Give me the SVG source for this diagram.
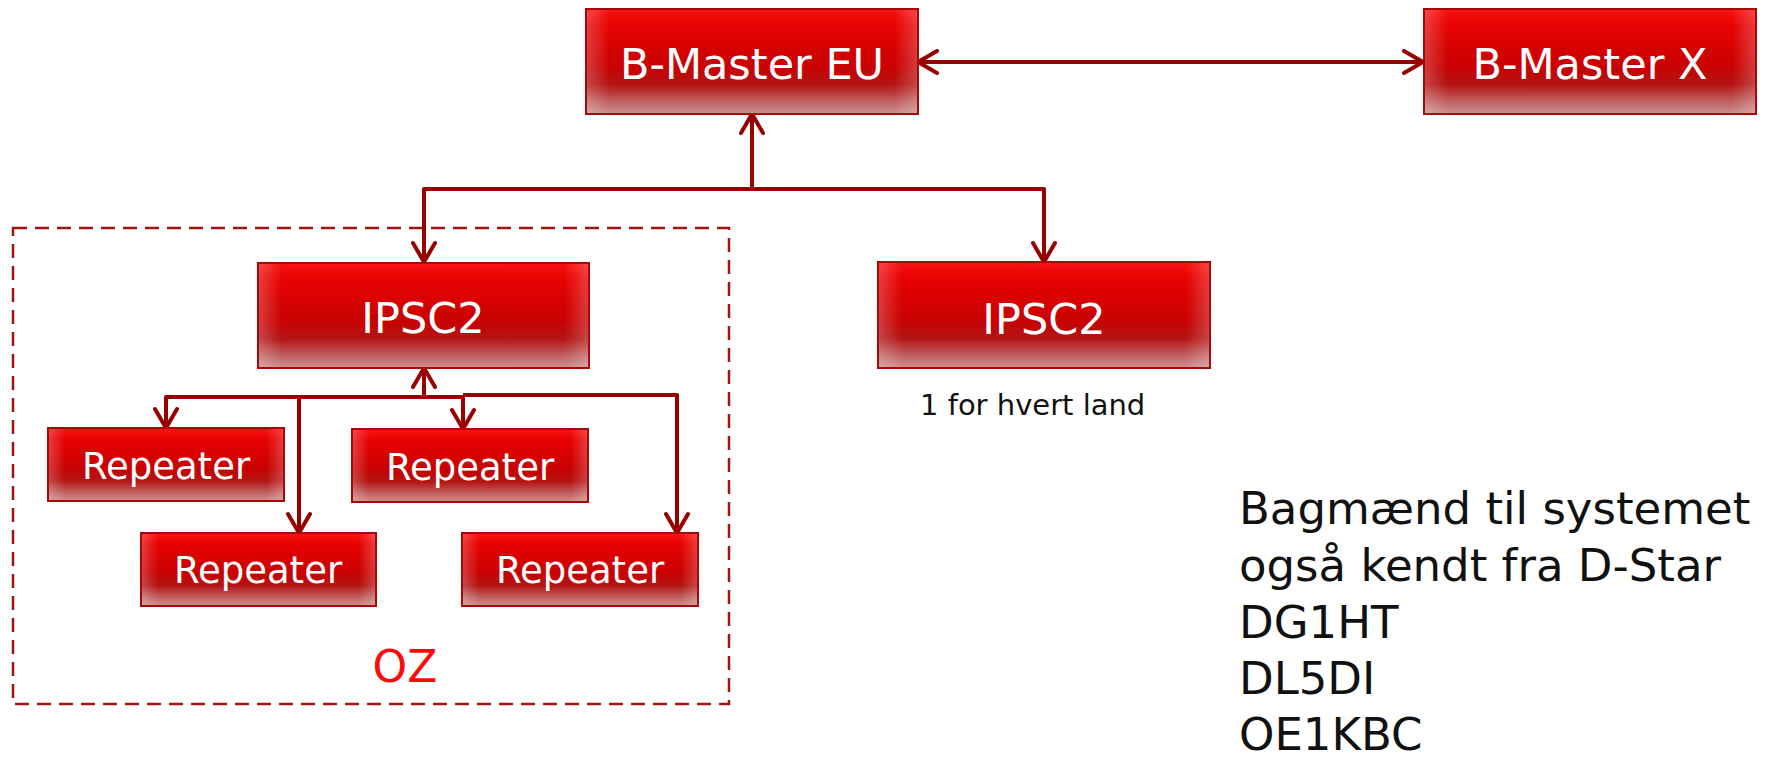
<svg xmlns="http://www.w3.org/2000/svg" width="1768" height="762" viewBox="0 0 1768 762">
  <style>
    .box { fill: url(#gV); stroke: #a80808; stroke-width: 2; }
    .glow { fill: url(#gH); stroke: none; }
    .lbl { font-family: "DejaVu Sans", "Liberation Sans", sans-serif; fill: #ffffff; text-anchor: middle; }
    .big { font-size: 43px; }
    .rep { font-size: 37px; }
    .conn { fill: none; stroke: #990000; stroke-width: 4; stroke-linejoin: round; }
    .note { font-family: "DejaVu Sans", "Liberation Sans", sans-serif; fill: #111111; }
    .group { fill: none; stroke: #a01414; stroke-width: 2.5; stroke-dasharray: 14 8; }
  </style>
  <defs>
    <linearGradient id="gV" x1="0" y1="0" x2="0" y2="1">
      <stop offset="0" stop-color="#f81414"/>
      <stop offset="0.15" stop-color="#e80202"/>
      <stop offset="0.55" stop-color="#c80202"/>
      <stop offset="0.72" stop-color="#b41414"/>
      <stop offset="0.88" stop-color="#c06060"/>
      <stop offset="1" stop-color="#cc9090"/>
    </linearGradient>
    <linearGradient id="gH" x1="0" y1="0" x2="1" y2="0">
      <stop offset="0" stop-color="#ffffff" stop-opacity="0.22"/>
      <stop offset="0.07" stop-color="#ffffff" stop-opacity="0"/>
      <stop offset="0.93" stop-color="#ffffff" stop-opacity="0"/>
      <stop offset="1" stop-color="#ffffff" stop-opacity="0.22"/>
    </linearGradient>
    <marker id="arr" viewBox="0 0 26 26" refX="22" refY="13" markerWidth="26" markerHeight="26" markerUnits="userSpaceOnUse" orient="auto-start-reverse">
      <path d="M3,2 L22,13 L3,24" fill="none" stroke="#990000" stroke-width="4" stroke-linecap="round" stroke-linejoin="round"/>
    </marker>
  </defs>

  <g id="oz-group">
    <rect class="group" x="13" y="228" width="716" height="476"/>
    <text x="405" y="682" font-family="DejaVu Sans, Liberation Sans, sans-serif" font-size="44" fill="#ff0a0a" text-anchor="middle">OZ</text>
  </g>

  <g id="connectors">
    <path class="conn" d="M918,62 H1423" marker-start="url(#arr)" marker-end="url(#arr)"/>
    <path class="conn" d="M752,114 V189 H424 V262" marker-start="url(#arr)" marker-end="url(#arr)"/>
    <path class="conn" d="M752,189 H1044 V262" marker-end="url(#arr)"/>
    <path class="conn" d="M424,397 V368" marker-end="url(#arr)"/>
    <path class="conn" d="M424,397 H166 V428" marker-end="url(#arr)"/>
    <path class="conn" d="M424,397 H463 V429" marker-end="url(#arr)"/>
    <path class="conn" d="M299,395 V533" marker-end="url(#arr)"/>
    <path class="conn" d="M463,395 H677 V533" marker-end="url(#arr)"/>
  </g>

  <g id="bmaster-eu">
    <rect class="box" x="586" y="9" width="332" height="105"/>
    <rect class="glow" x="587" y="10" width="330" height="103"/>
    <text class="lbl big" x="752" y="79">B-Master EU</text>
  </g>

  <g id="bmaster-x">
    <rect class="box" x="1424" y="9" width="332" height="105"/>
    <rect class="glow" x="1425" y="10" width="330" height="103"/>
    <text class="lbl big" x="1590" y="79">B-Master X</text>
  </g>

  <g id="ipsc2-oz">
    <rect class="box" x="258" y="263" width="331" height="105"/>
    <rect class="glow" x="259" y="264" width="329" height="103"/>
    <text class="lbl big" x="423" y="333">IPSC2</text>
  </g>

  <g id="ipsc2-other">
    <rect class="box" x="878" y="262" width="332" height="106"/>
    <rect class="glow" x="879" y="263" width="330" height="104"/>
    <text class="lbl big" x="1044" y="334">IPSC2</text>
    <text class="note" x="920" y="415" font-size="29">1 for hvert land</text>
  </g>

  <g id="repeater-1">
    <rect class="box" x="48" y="428" width="236" height="73"/>
    <rect class="glow" x="49" y="429" width="234" height="71"/>
    <text class="lbl rep" x="166" y="479">Repeater</text>
  </g>

  <g id="repeater-2">
    <rect class="box" x="141" y="533" width="235" height="73"/>
    <rect class="glow" x="142" y="534" width="233" height="71"/>
    <text class="lbl rep" x="258" y="583">Repeater</text>
  </g>

  <g id="repeater-3">
    <rect class="box" x="352" y="429" width="236" height="73"/>
    <rect class="glow" x="353" y="430" width="234" height="71"/>
    <text class="lbl rep" x="470" y="480">Repeater</text>
  </g>

  <g id="repeater-4">
    <rect class="box" x="462" y="533" width="236" height="73"/>
    <rect class="glow" x="463" y="534" width="234" height="71"/>
    <text class="lbl rep" x="580" y="583">Repeater</text>
  </g>

  <g id="notes">
    <text class="note" font-size="45">
      <tspan x="1239" y="524">Bagmænd til systemet</tspan>
      <tspan x="1239" y="581">også kendt fra D-Star</tspan>
      <tspan x="1239" y="638">DG1HT</tspan>
      <tspan x="1239" y="694">DL5DI</tspan>
      <tspan x="1239" y="750">OE1KBC</tspan>
    </text>
  </g>
</svg>
